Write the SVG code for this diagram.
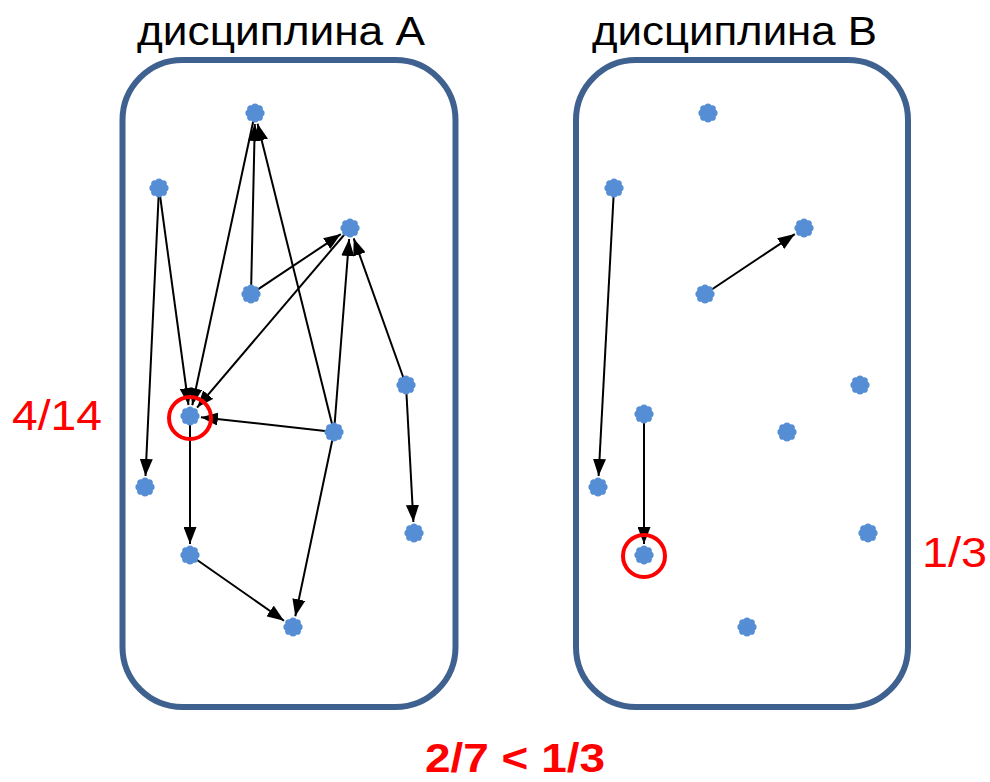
<svg xmlns="http://www.w3.org/2000/svg" width="990" height="782" viewBox="0 0 990 782">
  <style>
    .panel { fill: #ffffff; stroke: #3F6190; stroke-width: 6; }
    .title { font-family: "Liberation Sans", Arial, sans-serif; font-size: 41px; fill: #000000; }
    .ratio { font-family: "Liberation Sans", Arial, sans-serif; font-size: 42px; fill: #FF0000; }
    .result { font-family: "Liberation Sans", Arial, sans-serif; font-size: 41px; font-weight: bold; fill: #FF0000; }
    .edge { stroke: #000000; stroke-width: 2; fill: none; marker-end: url(#arrow); }
    .mark { fill: none; stroke: #FF0000; stroke-width: 4; }
    .flower { fill: #558ED5; }
  </style>
  <defs>
    <marker id="arrow" markerUnits="userSpaceOnUse" markerWidth="18" markerHeight="13" refX="17" refY="6.5" orient="auto">
      <path d="M0,0 L17,6.5 L0,13 z" fill="#000000"/>
    </marker>
    <!-- eight-petal node glyph -->
    <g id="flower" class="flower">
      <circle r="6"/>
      <circle cx="6" cy="0" r="3.6"/>
      <circle cx="4.24" cy="4.24" r="3.6"/>
      <circle cx="0" cy="6" r="3.6"/>
      <circle cx="-4.24" cy="4.24" r="3.6"/>
      <circle cx="-6" cy="0" r="3.6"/>
      <circle cx="-4.24" cy="-4.24" r="3.6"/>
      <circle cx="0" cy="-6" r="3.6"/>
      <circle cx="4.24" cy="-4.24" r="3.6"/>
    </g>
  </defs>

  <rect width="990" height="782" fill="#ffffff"/>

  <!-- panels -->
  <g id="panel-a">
    <rect class="panel" x="122.5" y="60" width="333" height="647" rx="60" ry="60"/>
    <text class="title" x="137" y="45" textLength="288" lengthAdjust="spacingAndGlyphs">дисциплина A</text>
  </g>
  <g id="panel-b">
    <rect class="panel" x="576" y="60" width="332" height="647" rx="60" ry="60"/>
    <text class="title" x="592" y="45" textLength="285" lengthAdjust="spacingAndGlyphs">дисциплина B</text>
  </g>

  <!-- connectors -->
  <g id="connectors">
    <line class="edge" x1="159" y1="188" x2="145.5" y2="476"/>
    <line class="edge" x1="159" y1="188" x2="188.5" y2="405"/>
    <line class="edge" x1="255" y1="113" x2="192.3" y2="405.2"/>
    <line class="edge" x1="251" y1="294" x2="254.8" y2="124"/>
    <line class="edge" x1="334" y1="432" x2="257.6" y2="123.7"/>
    <line class="edge" x1="251" y1="294" x2="340.8" y2="234.1"/>
    <line class="edge" x1="350" y1="228" x2="197.1" y2="407.6"/>
    <line class="edge" x1="334" y1="432" x2="349.1" y2="239"/>
    <line class="edge" x1="406" y1="385" x2="353.7" y2="238.4"/>
    <line class="edge" x1="334" y1="432" x2="200.9" y2="417.2"/>
    <line class="edge" x1="334" y1="432" x2="295.3" y2="616.2"/>
    <line class="edge" x1="190" y1="416" x2="190" y2="544"/>
    <line class="edge" x1="190" y1="555" x2="284" y2="620.7"/>
    <line class="edge" x1="406" y1="385" x2="413.4" y2="522"/>

    <line class="edge" x1="614" y1="188" x2="598.6" y2="476"/>
    <line class="edge" x1="705" y1="294" x2="794.8" y2="234.1"/>
    <line class="edge" x1="644" y1="414" x2="644" y2="544"/>
  </g>

  <!-- nodes of discipline A -->
  <g id="a1"><use href="#flower" x="255" y="113"/></g>
  <g id="a2"><use href="#flower" x="159" y="188"/></g>
  <g id="a3"><use href="#flower" x="350" y="228"/></g>
  <g id="a4"><use href="#flower" x="251" y="294"/></g>
  <g id="a5"><use href="#flower" x="406" y="385"/></g>
  <g id="a6"><use href="#flower" x="190" y="416"/><circle class="mark" cx="190" cy="418" r="21"/></g>
  <g id="a7"><use href="#flower" x="334" y="432"/></g>
  <g id="a8"><use href="#flower" x="145" y="487"/></g>
  <g id="a9"><use href="#flower" x="414" y="533"/></g>
  <g id="a10"><use href="#flower" x="190" y="555"/></g>
  <g id="a11"><use href="#flower" x="293" y="627"/></g>

  <!-- nodes of discipline B -->
  <g id="b1"><use href="#flower" x="708" y="113"/></g>
  <g id="b2"><use href="#flower" x="614" y="188"/></g>
  <g id="b3"><use href="#flower" x="804" y="228"/></g>
  <g id="b4"><use href="#flower" x="705" y="294"/></g>
  <g id="b5"><use href="#flower" x="860" y="385"/></g>
  <g id="b6"><use href="#flower" x="644" y="414"/></g>
  <g id="b7"><use href="#flower" x="787" y="432"/></g>
  <g id="b8"><use href="#flower" x="598" y="487"/></g>
  <g id="b9"><use href="#flower" x="868" y="533"/></g>
  <g id="b10"><use href="#flower" x="644" y="555"/><circle class="mark" cx="644" cy="556" r="21"/></g>
  <g id="b11"><use href="#flower" x="747" y="627"/></g>

  <!-- ratios -->
  <text class="ratio" x="12" y="430" textLength="90" lengthAdjust="spacingAndGlyphs">4/14</text>
  <text class="ratio" x="922" y="567" textLength="65" lengthAdjust="spacingAndGlyphs">1/3</text>
  <text class="result" x="425" y="772" textLength="180" lengthAdjust="spacingAndGlyphs">2/7 &lt; 1/3</text>
</svg>
